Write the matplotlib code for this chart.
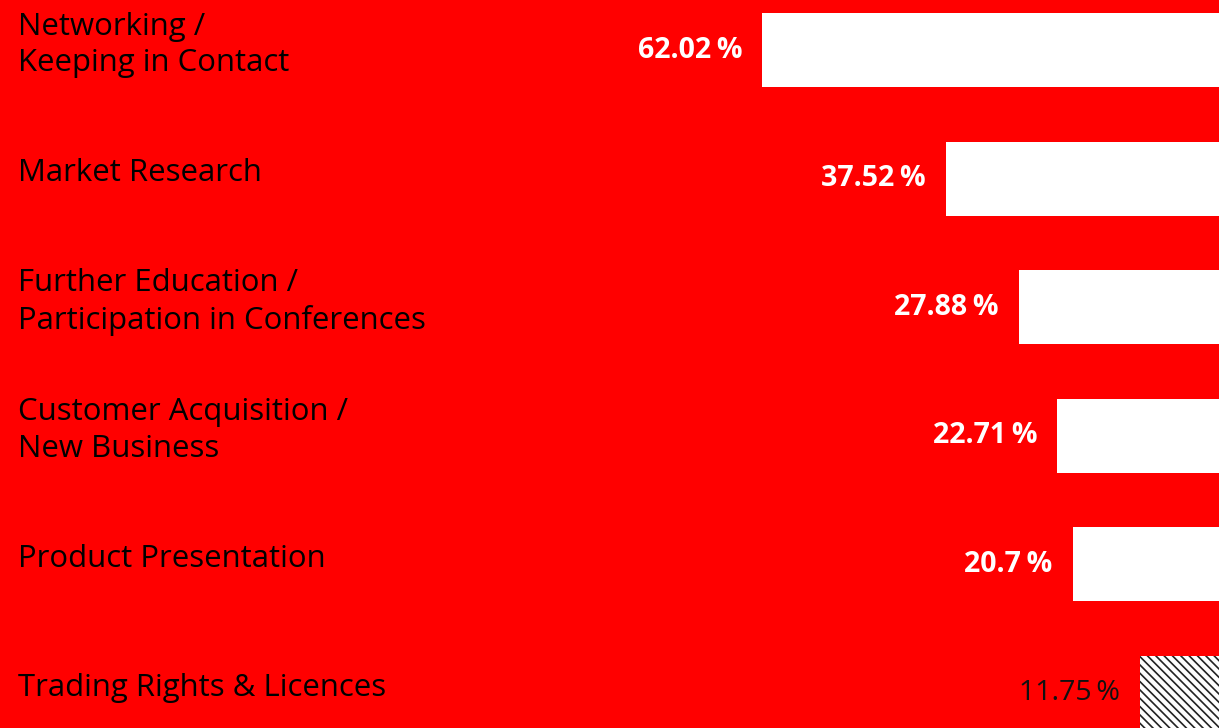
import matplotlib
matplotlib.use("Agg")
import matplotlib.pyplot as plt
from matplotlib.transforms import blended_transform_factory

categories = [
    "Networking /\nKeeping in Contact",
    "Market Research",
    "Further Education /\nParticipation in Conferences",
    "Customer Acquisition /\nNew Business",
    "Product Presentation",
    "Trading Rights & Licences",
]
values = [62.02, 37.52, 27.88, 22.71, 20.7, 11.75]
value_labels = ["62.02\u2009%", "37.52\u2009%", "27.88\u2009%", "22.71\u2009%", "20.7\u2009%", "11.75\u2009%"]
hatched = [False, False, False, False, False, True]

RED = "#ff0000"
plt.rcParams["font.family"] = ["Open Sans", "DejaVu Sans"]
plt.rcParams["hatch.linewidth"] = 1.2

fig = plt.figure(figsize=(12.19, 7.28), dpi=100)
fig.patch.set_facecolor(RED)
ax = fig.add_axes([0, 0, 1, 1])
ax.set_facecolor(RED)
for s in ax.spines.values():
    s.set_visible(False)
ax.set_xticks([])
ax.set_yticks([])

ys = list(range(len(categories)))
for y, v, h in zip(ys, values, hatched):
    if h:
        ax.barh(y, v, height=0.575, color="white", edgecolor="#222222",
                hatch="\\\\\\\\", linewidth=0)
    else:
        ax.barh(y, v, height=0.575, color="white", linewidth=0)

ax.set_xlim(163.5, 1.2)
ax.set_ylim(5.272, -0.389)

trans = blended_transform_factory(ax.transAxes, ax.transData)
for y, c in zip(ys, categories):
    ax.text(18 / 1219, y - 0.04, c, transform=trans, ha="left", va="center",
            fontsize=22.4, color="black", linespacing=1.29)

for y, v, lab, h in zip(ys, values, value_labels, hatched):
    ax.annotate(lab, xy=(v, y), xytext=(-14.5, 0), textcoords="offset points",
                ha="right", va="center", fontsize=20.5,
                color="#111111" if h else "white",
                fontweight="normal" if h else "bold")

fig.savefig("out.png", dpi=100, facecolor=RED)
